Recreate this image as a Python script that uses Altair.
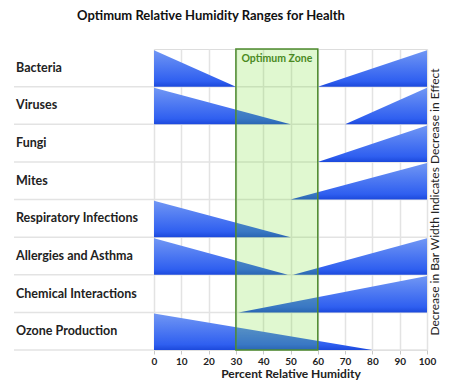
import altair as alt
import pandas as pd

categories = ["Bacteria", "Viruses", "Fungi", "Mites", "Respiratory Infections",
              "Allergies and Asthma", "Chemical Interactions", "Ozone Production"]
# decreasing wedge: full at 0 RH, tapering to zero at left_end
left_end = [30, 50, None, None, 50, 49, None, 80]
# increasing wedge: zero at right_start, full at 100 RH
right_start = [60, 70, 60, 50, None, 51, 31, None]
x_ticks = [0, 10, 20, 30, 40, 50, 60, 70, 80, 90, 100]
optimum = [30, 60]

FONT = "Lato"
TXT = "#222222"

rows = []
for i, cat in enumerate(categories):
    top, bot = i + 0.03, i + 1
    if left_end[i] is not None:
        wid = f"{cat}-L"
        rows.append({"cat": cat, "wedge": wid, "x": 0, "top": top, "bot": bot})
        rows.append({"cat": cat, "wedge": wid, "x": left_end[i], "top": bot, "bot": bot})
    if right_start[i] is not None:
        wid = f"{cat}-R"
        rows.append({"cat": cat, "wedge": wid, "x": right_start[i], "top": bot, "bot": bot})
        rows.append({"cat": cat, "wedge": wid, "x": 100, "top": top, "bot": bot})
wedges = pd.DataFrame(rows)

labels = pd.DataFrame({"cat": categories, "yc": [i + 0.5 for i in range(len(categories))]})
bounds = pd.DataFrame({"b": list(range(1, len(categories) + 1))})
zone = pd.DataFrame({"x": [optimum[0]], "x2": [optimum[1]], "y1": [0], "y2": [len(categories)]})

W, H = 273, 301
xscale = alt.Scale(domain=[0, 100], nice=False)
yscale = alt.Scale(domain=[0, len(categories)], reverse=True, nice=False)

x_axis = alt.Axis(values=x_ticks, grid=True, gridColor="#e3e3e3", gridWidth=1.5,
                  domainColor="#d6d6d6", tickColor="#c8c8c8", tickSize=4,
                  labelFont=FONT, labelFontWeight="bold", labelFontSize=10,
                  labelColor=TXT, labelPadding=2, labelOverlap=False,
                  labelFlush=False,
                  title="Percent Relative Humidity", titleFont=FONT,
                  titleFontWeight="bold", titleFontSize=12, titleColor=TXT,
                  titlePadding=2)

def xenc():
    return alt.X("x:Q", scale=xscale, axis=x_axis)

sep = alt.Chart(bounds).mark_rule(color="#e3e3e3", strokeWidth=1.5).encode(
    x=alt.value(-140), x2=alt.value(W),
    y=alt.Y("b:Q", scale=yscale, axis=None))

area = alt.Chart(wedges).mark_area(
    color=alt.Gradient(gradient="linear", x1=0, x2=0, y1=0, y2=1,
                       stops=[alt.GradientStop(color="#7197f4", offset=0),
                              alt.GradientStop(color="#2f5ff0", offset=0.85),
                              alt.GradientStop(color="#1c49dc", offset=1)]),
    interpolate="linear").encode(
    x=xenc(),
    y=alt.Y("top:Q", scale=yscale, axis=None),
    y2="bot:Q",
    detail="wedge:N")

rect = alt.Chart(zone).mark_rect(fill="#64dc14", fillOpacity=0.2, stroke="#4e8a2e",
                                 strokeWidth=1.5).encode(
    x=xenc(), x2="x2:Q",
    y=alt.Y("y1:Q", scale=yscale, axis=None), y2="y2:Q")

zone_txt = alt.Chart(pd.DataFrame({"t": ["Optimum Zone"], "x": [sum(optimum) / 2]})).mark_text(
    font=FONT, fontWeight="bold", fontSize=10.5, color="#4a8a22", baseline="middle").encode(
    x=xenc(), y=alt.value(10), text="t:N")

cat_txt = alt.Chart(labels).mark_text(font=FONT, fontWeight="bold", fontSize=12.5, color=TXT,
                                      align="left", baseline="middle").encode(
    x=alt.value(-138), y=alt.Y("yc:Q", scale=yscale, axis=None), text="cat:N")

title_txt = alt.Chart(pd.DataFrame({"t": ["Optimum Relative Humidity Ranges for Health"]})).mark_text(
    font=FONT, fontWeight="bold", fontSize=13, color="#111111", baseline="middle").encode(
    x=alt.value(57), y=alt.value(-33), text="t:N")

side_txt = alt.Chart(pd.DataFrame({"t": ["Decrease in Bar Width Indicates Decrease in Effect"]})).mark_text(
    font=FONT, fontSize=12, color=TXT, angle=270, baseline="middle").encode(
    x=alt.value(281), y=alt.value(153), text="t:N")

chart = alt.layer(sep, area, rect, zone_txt, cat_txt, title_txt, side_txt).properties(
    width=W, height=H,
    autosize=alt.AutoSizeParams(type="none"),
    padding={"left": 146, "top": 41, "right": 15, "bottom": 33},
).configure_view(stroke=None).configure(background="white")

chart.save("out.html", embed_options={"renderer": "svg", "actions": False})
